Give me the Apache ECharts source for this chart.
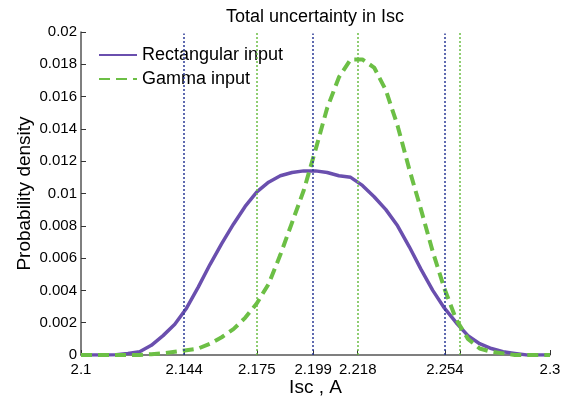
<!DOCTYPE html>
<html>
<head>
<meta charset="utf-8">
<script src="https://cdn.jsdelivr.net/npm/echarts@6/dist/echarts.min.js"></script>
<style>html,body{margin:0;padding:0;background:#fff}#c{width:565px;height:399px}</style>
</head>
<body>
<div id="c"></div>
<script>
const xValues = [2.100,2.105,2.110,2.115,2.120,2.125,2.130,2.135,2.140,2.145,2.150,2.155,2.160,2.165,2.170,2.175,2.180,2.185,2.190,2.195,2.200,2.205,2.210,2.215,2.220,2.225,2.230,2.235,2.240,2.245,2.250,2.255,2.260,2.265,2.270,2.275,2.280,2.285,2.290,2.295,2.300];
const rectangular = [0,0,0,0.00002,0.0001,0.0002,0.0006,0.0012,0.0019,0.0029,0.0042,0.0056,0.0069,0.0081,0.0092,0.0101,0.0107,0.0111,0.0113,0.0114,0.0114,0.0113,0.0111,0.0110,0.0105,0.0098,0.0090,0.0080,0.0067,0.0053,0.0040,0.0029,0.0020,0.0012,0.0007,0.0004,0.0002,0.0001,0,0,0];
const gamma = [0,0,0,0,0,0,0.00005,0.0001,0.0002,0.0003,0.0004,0.0007,0.0011,0.0016,0.0023,0.0032,0.0044,0.0062,0.0082,0.0102,0.0127,0.0153,0.0172,0.0183,0.0183,0.0178,0.0164,0.0142,0.0115,0.0090,0.0064,0.0041,0.0022,0.0010,0.0004,0.0002,0.0001,0,0,0,0];
const rectLines = [2.144, 2.199, 2.2552];
const gammaLines = [2.175, 2.218, 2.2616];
const tickValues = [2.1, 2.144, 2.175, 2.199, 2.218, 2.2552, 2.2616, 2.3];
const tickLabels = ['2.1', '2.144', '2.175', '2.199', '2.218', '2.254', '', '2.3'];

const purple = '#6a4fae';
const green = '#6cbf45';
const blue = '#2b3a96';
const font = 'Liberation Sans, Arial, sans-serif';

function vlines(xs, top) {
  return xs.map(x => [{coord: [x, 0]}, {coord: [x, top]}]);
}

const chart = echarts.init(document.getElementById('c'));
chart.setOption({
  animation: false,
  title: {
    text: 'Total uncertainty in Isc',
    left: 221, top: 3,
    textStyle: {fontFamily: font, fontSize: 18, fontWeight: 'normal', color: '#000'}
  },
  legend: {
    orient: 'vertical', left: 93, top: 41, itemGap: 6,
    itemWidth: 38, itemHeight: 14,
    itemStyle: {opacity: 0},
    textStyle: {fontFamily: font, fontSize: 18, color: '#000'},
    data: ['Rectangular input', 'Gamma input']
  },
  grid: {left: 81, right: 15, top: 32, bottom: 44, outerBoundsMode: 'none'},
  xAxis: {
    type: 'value', min: 2.1, max: 2.3,
    name: 'Isc , A', nameLocation: 'middle', nameGap: 23, nameMoveOverlap: false,
    nameTextStyle: {fontFamily: font, fontSize: 19, color: '#000'},
    axisLine: {lineStyle: {color: '#555', width: 1.5}},
    axisTick: {inside: true, length: 5, customValues: tickValues, lineStyle: {color: '#333'}},
    axisLabel: {
      customValues: tickValues, margin: 7,
      fontFamily: font, fontSize: 15, color: '#000',
      formatter: v => { const i = tickValues.findIndex(t => Math.abs(t - v) < 1e-6); return i >= 0 ? tickLabels[i] : ''; }
    },
    splitLine: {show: false}
  },
  yAxis: {
    type: 'value', min: 0, max: 0.02, interval: 0.002,
    name: 'Probability density', nameLocation: 'middle', nameGap: 47, nameMoveOverlap: false,
    nameTextStyle: {fontFamily: font, fontSize: 19, color: '#000'},
    axisLine: {show: true, lineStyle: {color: '#555', width: 1.5}},
    axisTick: {show: true, inside: true, length: 5, lineStyle: {color: '#333'}},
    axisLabel: {margin: 4, fontFamily: font, fontSize: 15, color: '#000'},
    splitLine: {show: false}
  },
  series: [
    {
      name: 'Rectangular input', type: 'line', symbol: 'none', z: 3,
      data: xValues.map((x, i) => [x, rectangular[i]]),
      lineStyle: {color: purple, width: 3.5},
      itemStyle: {color: purple},
      markLine: {
        silent: true, symbol: 'none', label: {show: false},
        lineStyle: {color: blue, type: [2, 2], width: 1.5},
        data: vlines(rectLines, 0.0199)
      }
    },
    {
      name: 'Gamma input', type: 'line', symbol: 'none', z: 4,
      data: xValues.map((x, i) => [x, gamma[i]]),
      lineStyle: {color: green, width: 4, type: [11, 6]},
      itemStyle: {color: green},
      markLine: {
        silent: true, symbol: 'none', label: {show: false},
        lineStyle: {color: green, type: [2, 2], width: 1.5},
        data: vlines(gammaLines, 0.02)
      }
    }
  ]
});
</script>
</body>
</html>
